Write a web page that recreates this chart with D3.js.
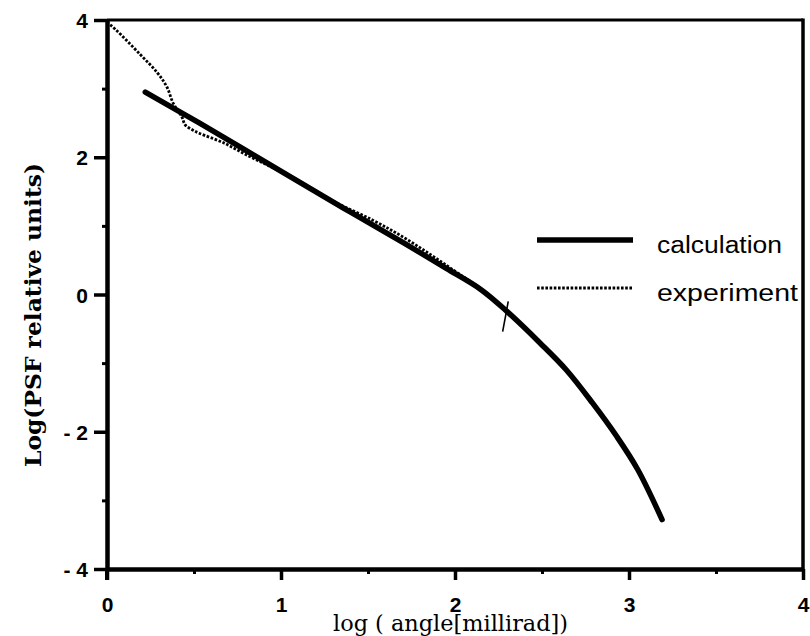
<!DOCTYPE html>
<html>
<head>
<meta charset="utf-8">
<script src="https://cdn.jsdelivr.net/npm/d3@7"></script>
<style>
  html, body { margin: 0; padding: 0; background: #fff; }
  svg { display: block; }
</style>
</head>
<body>
<svg id="chart" width="810" height="636"></svg>
<script>
// ---- data ----
const calcX = [0.22, 0.53, 1.05, 1.40, 1.70, 1.95, 2.15, 2.30, 2.49, 2.64, 2.79, 2.93, 3.05, 3.19];
const calcY = [2.95, 2.50, 1.72, 1.20, 0.76, 0.38, 0.07, -0.25, -0.71, -1.10, -1.58, -2.07, -2.55, -3.28];

const expX = [0, 0.05, 0.19, 0.29, 0.345, 0.38, 0.43, 0.45, 0.49, 0.53, 0.67, 0.82, 0.96, 1.10, 1.30, 1.53, 1.70, 1.86, 2.00, 2.15, 2.30];
const expY = [3.97, 3.86, 3.50, 3.23, 3.02, 2.79, 2.59, 2.47, 2.40, 2.35, 2.21, 2.01, 1.84, 1.66, 1.36, 1.08, 0.84, 0.58, 0.34, 0.08, -0.24];

const markX = [2.306, 2.274];
const markY = [-0.10, -0.54];

const xMajorTicks = [0, 1, 2, 3, 4];
const xMinorTicks = [0.5, 1.5, 2.5, 3.5];
const yMajorTicks = [-4, -2, 0, 2, 4];
const yMinorTicks = [-3, -1, 1, 3];

const legendLabels = ["calculation", "experiment"];
const xTitle = "log ( angle[millirad])";
const yTitle = "Log(PSF relative units)";

// ---- drawing ----
const svg = d3.select("#chart");
const x = d3.scaleLinear().domain([0, 4]).range([107, 803]);
const y = d3.scaleLinear().domain([-4, 4]).range([569, 20]);

const fmtY = d => d < 0 ? "- " + Math.abs(d) : String(d);

// minor ticks
svg.append("g").attr("transform", `translate(0,${y(-4)})`)
  .call(d3.axisBottom(x).tickValues(xMinorTicks).tickSize(5).tickSizeOuter(0).tickFormat(""))
  .call(g => g.select(".domain").remove())
  .call(g => g.selectAll("line").attr("stroke", "#000").attr("stroke-width", 3));
svg.append("g").attr("transform", `translate(${x(0)},0)`)
  .call(d3.axisLeft(y).tickValues(yMinorTicks).tickSize(5).tickSizeOuter(0).tickFormat(""))
  .call(g => g.select(".domain").remove())
  .call(g => g.selectAll("line").attr("stroke", "#000").attr("stroke-width", 3));

// major x axis
svg.append("g").attr("transform", `translate(0,${y(-4)})`)
  .call(d3.axisBottom(x).tickValues(xMajorTicks).tickSize(11).tickSizeOuter(0).tickFormat(d3.format("d")))
  .call(g => g.select(".domain").attr("stroke", "#000").attr("stroke-width", 4.5))
  .call(g => g.selectAll("line").attr("stroke", "#000").attr("stroke-width", 3.5))
  .call(g => g.selectAll("text")
      .attr("y", 43).attr("dy", 0)
      .attr("fill", "#000")
      .style("font-family", "'Liberation Sans', Arial, sans-serif")
      .style("font-size", "21px").style("font-weight", "bold"));

// major y axis
svg.append("g").attr("transform", `translate(${x(0)},0)`)
  .call(d3.axisLeft(y).tickValues(yMajorTicks).tickSize(13).tickSizeOuter(0).tickFormat(fmtY))
  .call(g => g.select(".domain").attr("stroke", "#000").attr("stroke-width", 4.5))
  .call(g => g.selectAll("line").attr("stroke", "#000").attr("stroke-width", 3.5))
  .call(g => g.selectAll("text")
      .attr("x", -19).attr("dy", "0.36em")
      .attr("fill", "#000")
      .style("font-family", "'Liberation Sans', Arial, sans-serif")
      .style("font-size", "21px").style("font-weight", "bold"));

// axis extension below the corner (cross)
svg.append("line").attr("x1", x(0)).attr("x2", x(0)).attr("y1", y(-4)).attr("y2", y(-4) + 11)
  .attr("stroke", "#000").attr("stroke-width", 4);

// top and right frame
svg.append("line").attr("x1", x(0)).attr("x2", x(4)).attr("y1", y(4)).attr("y2", y(4))
  .attr("stroke", "#000").attr("stroke-width", 3);
svg.append("line").attr("x1", x(4)).attr("x2", x(4)).attr("y1", y(4) - 1.5).attr("y2", y(-4))
  .attr("stroke", "#000").attr("stroke-width", 3.5);

// lines
const line = d3.line().x(d => x(d[0])).y(d => y(d[1])).curve(d3.curveCatmullRom.alpha(0.5));

svg.append("path")
  .datum(expX.map((v, i) => [v, expY[i]]))
  .attr("d", line)
  .attr("fill", "none").attr("stroke", "#000")
  .attr("stroke-width", 2.8).attr("stroke-dasharray", "2.6,1.6");

svg.append("path")
  .datum(calcX.map((v, i) => [v, calcY[i]]))
  .attr("d", line)
  .attr("fill", "none").attr("stroke", "#000")
  .attr("stroke-width", 5.5).attr("stroke-linecap", "round").attr("stroke-linejoin", "round");

svg.append("path")
  .datum(markX.map((v, i) => [v, markY[i]]))
  .attr("d", d3.line().x(d => x(d[0])).y(d => y(d[1])))
  .attr("fill", "none").attr("stroke", "#000").attr("stroke-width", 1.6);

// legend
const legY = [240, 288];
svg.append("line").attr("x1", 537).attr("x2", 633).attr("y1", legY[0]).attr("y2", legY[0])
  .attr("stroke", "#000").attr("stroke-width", 5.5);
svg.append("line").attr("x1", 537).attr("x2", 633).attr("y1", legY[1]).attr("y2", legY[1])
  .attr("stroke", "#000").attr("stroke-width", 2.8).attr("stroke-dasharray", "2.6,1.6");
const legLens = [125, 141];
legendLabels.forEach((t, i) => {
  svg.append("text").attr("x", 657).attr("y", legY[i] + 13)
    .attr("textLength", legLens[i]).attr("lengthAdjust", "spacingAndGlyphs")
    .style("font-family", "'Liberation Sans', Arial, sans-serif")
    .style("font-size", "23px").attr("fill", "#000").text(t);
});

// titles
svg.append("text")
  .attr("x", 333).attr("y", 631)
  .attr("textLength", 235).attr("lengthAdjust", "spacingAndGlyphs")
  .style("font-family", "'DejaVu Serif', serif")
  .style("font-size", "22px").attr("fill", "#000").text(xTitle);

svg.append("text")
  .attr("transform", "translate(41,467) rotate(-90)")
  .attr("x", 0).attr("y", 0)
  .attr("textLength", 304).attr("lengthAdjust", "spacingAndGlyphs")
  .style("font-family", "'DejaVu Serif', serif")
  .style("font-size", "22px").style("font-weight", "600").attr("fill", "#000").text(yTitle);
</script>
</body>
</html>
